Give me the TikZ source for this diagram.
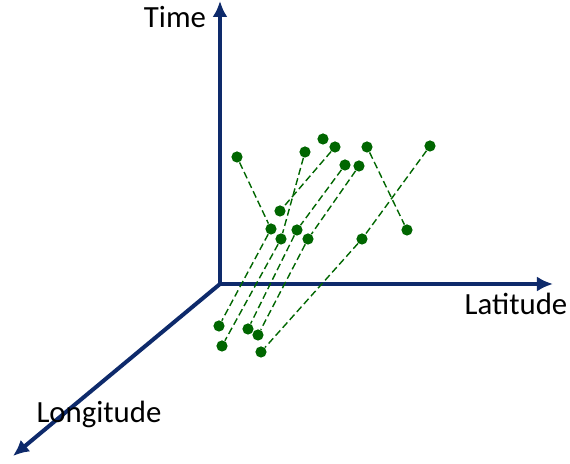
\documentclass[tikz,border=0pt]{standalone}
\usepackage{fontspec}
\setmainfont{Carlito}
\usetikzlibrary{arrows.meta}
\definecolor{AxisNavy}{HTML}{0E2A6B}
\definecolor{TrackGreen}{HTML}{006600}

\begin{document}
\begin{tikzpicture}[x=0.5pt,y=-0.5pt,
  axis/.style={line width=2pt,AxisNavy,-{Latex[length=8pt,width=7.5pt]}},
  dot/.style={circle,fill=TrackGreen,inner sep=0pt,minimum size=5.6pt},
  trail/.style={TrackGreen,line width=0.7pt,dash pattern=on 3.5pt off 1.8pt},
  lbl/.style={font=\fontsize{15.4pt}{18pt}\selectfont,anchor=base,inner sep=0pt}]
  \useasboundingbox (0,0) rectangle (570,464);
  % axes
  \coordinate (o) at (220,284);
  \coordinate (tend) at (220,1);
  \coordinate (latend) at (553,284);
  \coordinate (lonend) at (13,456);
  \draw[axis] (o)--(tend);
  \draw[axis] (o)--(latend);
  \draw[axis] (o)--(lonend);
  \node[lbl] (tlab) at (175,28) {Time};
  \node[lbl] (latlab) at (516,315) {Latitude};
  \node[lbl] (lonlab) at (99,423) {Longitude};
  % track points
  \node[dot] (a) at (237,157) {};
  \node[dot] (b) at (305,152) {};
  \node[dot] (c) at (323,139) {};
  \node[dot] (d) at (335,147) {};
  \node[dot] (e) at (367,147) {};
  \node[dot] (f) at (430,146) {};
  \node[dot] (g) at (345,165) {};
  \node[dot] (h) at (359,166) {};
  \node[dot] (i) at (280,211) {};
  \node[dot] (j) at (271,229) {};
  \node[dot] (k) at (297,230) {};
  \node[dot] (l) at (281,239) {};
  \node[dot] (m) at (308,239) {};
  \node[dot] (n) at (362,239) {};
  \node[dot] (p) at (407,230) {};
  \node[dot] (q) at (219,326) {};
  \node[dot] (r) at (222,346) {};
  \node[dot] (s) at (248,329) {};
  \node[dot] (t) at (258,335) {};
  \node[dot] (u) at (261,352) {};
  % trajectories
  \draw[trail] (a)--(j)--(q);
  \draw[trail] (b)--(l)--(r);
  \draw[trail] (d)--(i);
  \draw[trail] (g)--(k)--(s);
  \draw[trail] (h)--(m)--(t);
  \draw[trail] (f)--(n)--(u);
  \draw[trail] (e)--(p);
\end{tikzpicture}
\end{document}
